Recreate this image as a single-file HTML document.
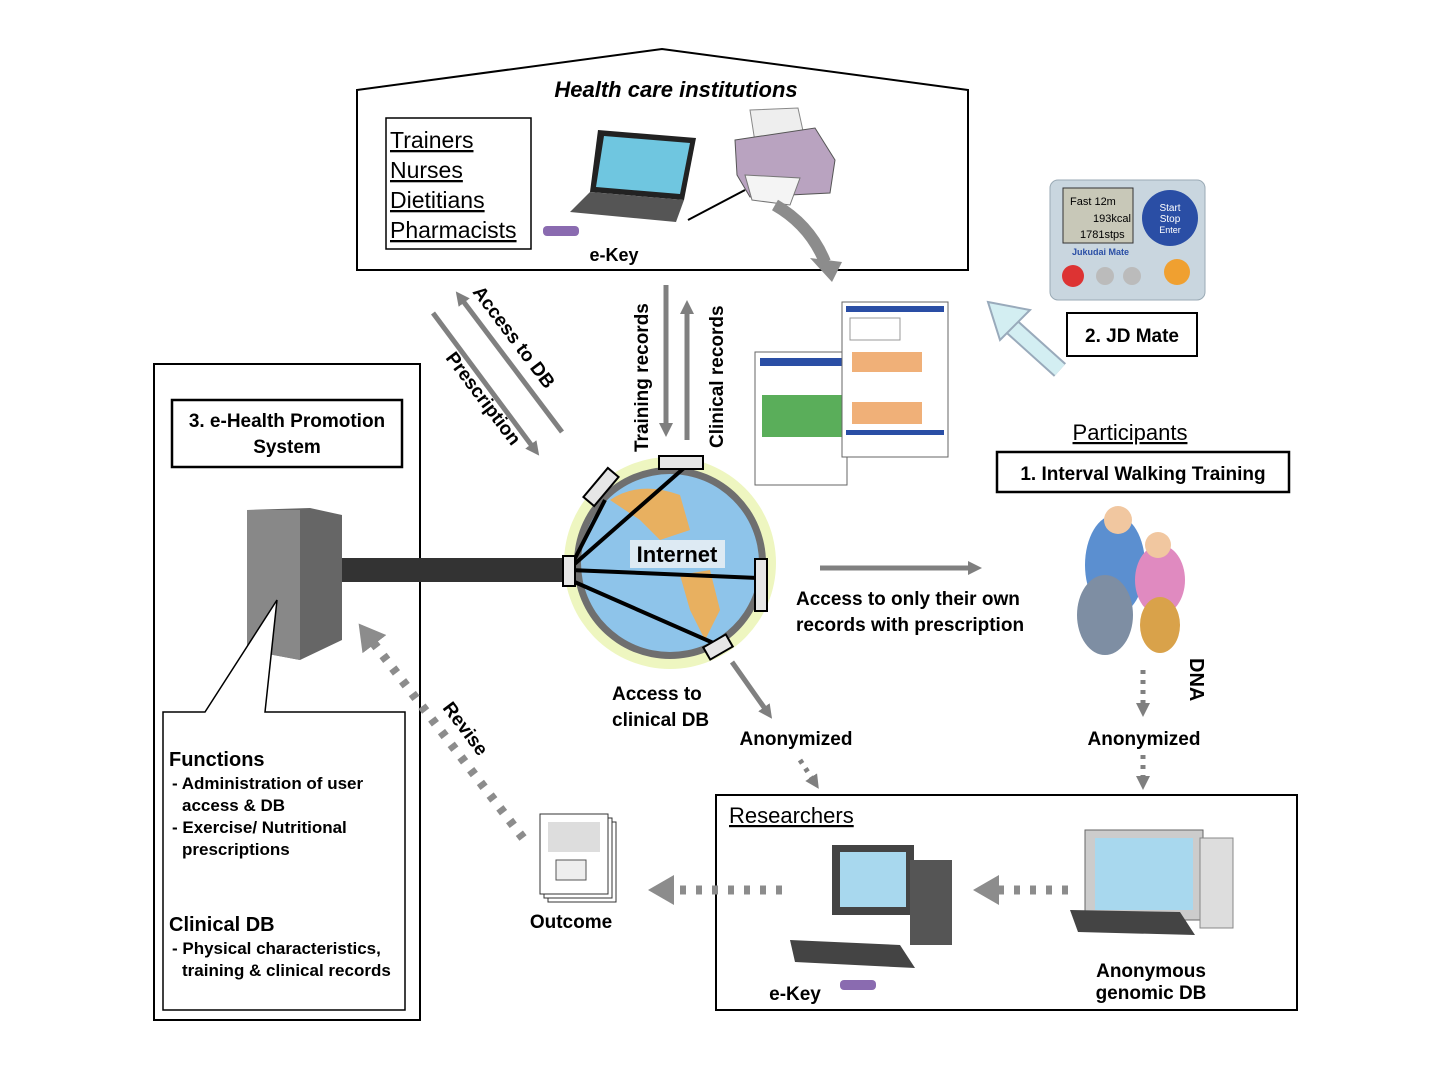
<!DOCTYPE html>
<html><head><meta charset="utf-8"><style>
body{margin:0;background:#fff}
svg{display:block}
text{font-family:"Liberation Sans",Arial,sans-serif}
.b{font-weight:bold}
</style></head><body>
<svg width="1440" height="1077" viewBox="0 0 1440 1077">
<defs>
<marker id="ga" markerWidth="14" markerHeight="14" refX="7" refY="7" orient="auto" markerUnits="userSpaceOnUse" viewBox="0 0 14 14"><path d="M0,0 L14,7 L0,14 z" fill="#7f7f7f"/></marker>
<marker id="gc" markerWidth="26" markerHeight="30" refX="4" refY="15" orient="auto" markerUnits="userSpaceOnUse" viewBox="0 0 26 30"><path d="M0,0 L26,15 L0,30 z" fill="#8c8c8c"/></marker>
</defs>
<polygon points="357,90 662,49 968,90 968,270 357,270" fill="#fff" stroke="#000" stroke-width="2"/>
<text x="676" y="97" font-size="22" font-style="italic" class="b" text-anchor="middle">Health care institutions</text>
<rect x="386" y="118" width="145" height="131" fill="#fff" stroke="#000" stroke-width="1.5"/>
<g font-size="23" text-decoration="underline">
<text x="390" y="148">Trainers</text><text x="390" y="178">Nurses</text><text x="390" y="208">Dietitians</text><text x="390" y="238">Pharmacists</text></g>
<polygon points="598,130 696,138 684,200 590,192" fill="#222"/>
<polygon points="604,136 690,143 680,194 596,187" fill="#6fc6e0"/>
<polygon points="590,192 684,200 676,222 570,212" fill="#555"/>
<line x1="688" y1="220" x2="745" y2="190" stroke="#000" stroke-width="2"/>
<rect x="543" y="226" width="36" height="10" rx="4" fill="#8a6bb0"/>
<text x="614" y="261" font-size="18" class="b" text-anchor="middle">e-Key</text>
<polygon points="750,110 798,108 805,140 755,142" fill="#eee" stroke="#888"/>
<polygon points="735,140 815,128 835,160 830,193 750,197 737,175" fill="#b9a3c0" stroke="#555"/>
<polygon points="745,175 800,178 790,205 752,200" fill="#f4f4f4" stroke="#777"/>
<path d="M775,205 Q810,225 825,262" stroke="#8c8c8c" stroke-width="12" fill="none"/>
<polygon points="810,258 842,262 832,282" fill="#8c8c8c"/>
<rect x="1050" y="180" width="155" height="120" rx="8" fill="#c9d6df" stroke="#9aaab5"/>
<rect x="1063" y="188" width="70" height="55" fill="#c8c8b8" stroke="#333"/>
<text x="1070" y="205" font-size="11">Fast 12m</text><text x="1093" y="222" font-size="11">193kcal</text><text x="1080" y="238" font-size="11">1781stps</text>
<circle cx="1170" cy="218" r="28" fill="#2a4ea5"/>
<text x="1170" y="211" font-size="10" fill="#fff" text-anchor="middle">Start</text><text x="1170" y="222" font-size="10" fill="#fff" text-anchor="middle">Stop</text><text x="1170" y="233" font-size="9" fill="#fff" text-anchor="middle">Enter</text>
<text x="1072" y="255" font-size="9" class="b" fill="#2a4ea5">Jukudai Mate</text>
<circle cx="1073" cy="276" r="11" fill="#d33"/><circle cx="1105" cy="276" r="9" fill="#bbb"/><circle cx="1132" cy="276" r="9" fill="#bbb"/><circle cx="1177" cy="272" r="13" fill="#f0a030"/>
<rect x="1067" y="313" width="130" height="43" fill="#fff" stroke="#000" stroke-width="2"/>
<text x="1132" y="342" font-size="19" class="b" text-anchor="middle">2. JD Mate</text>
<line x1="1060" y1="370" x2="1010" y2="325" stroke="#9ab" stroke-width="18"/>
<line x1="1060" y1="370" x2="1010" y2="325" stroke="#d3eef2" stroke-width="14"/>
<polygon points="988,302 1030,310 1000,340" fill="#d3eef2" stroke="#9ab" stroke-width="2"/>
<!-- reports -->
<rect x="755" y="352" width="92" height="133" fill="#fff" stroke="#666"/>
<rect x="760" y="358" width="82" height="8" fill="#2a4ea5"/>
<rect x="762" y="395" width="80" height="42" fill="#5aae5a"/>
<rect x="842" y="302" width="106" height="155" fill="#fff" stroke="#666"/>
<rect x="846" y="306" width="98" height="6" fill="#2a4ea5"/>
<rect x="850" y="318" width="50" height="22" fill="#fff" stroke="#999"/>
<rect x="852" y="352" width="70" height="20" fill="#f0b078"/>
<rect x="852" y="402" width="70" height="22" fill="#f0b078"/>
<rect x="846" y="430" width="98" height="5" fill="#2a4ea5"/>
<line x1="433" y1="313" x2="535" y2="450" stroke="#808080" stroke-width="5" marker-end="url(#ga)"/>
<line x1="562" y1="432" x2="460" y2="297" stroke="#808080" stroke-width="5" marker-end="url(#ga)"/>
<text transform="translate(472,292) rotate(53)" font-size="19" class="b">Access to DB</text>
<text transform="translate(445,358) rotate(53)" font-size="19" class="b">Prescription</text>
<line x1="666" y1="285" x2="666" y2="430" stroke="#808080" stroke-width="5" marker-end="url(#ga)"/>
<line x1="687" y1="440" x2="687" y2="307" stroke="#808080" stroke-width="5" marker-end="url(#ga)"/>
<text transform="translate(648,452) rotate(-90)" font-size="19" class="b">Training records</text>
<text transform="translate(723,448) rotate(-90)" font-size="19" class="b">Clinical records</text>
<rect x="154" y="364" width="266" height="656" fill="#fff" stroke="#000" stroke-width="2"/>
<rect x="172" y="400" width="230" height="67" fill="#fff" stroke="#000" stroke-width="2.5"/>
<text x="287" y="427" font-size="19" class="b" text-anchor="middle">3. e-Health Promotion</text>
<text x="287" y="453" font-size="19" class="b" text-anchor="middle">System</text>
<polygon points="247,510 310,508 342,515 342,640 300,660 247,650" fill="#666"/>
<polygon points="247,510 300,510 300,660 247,650" fill="#888"/>
<rect x="342" y="558" width="224" height="24" fill="#333"/>
<polygon points="163,712 205,712 277,600 265,712 405,712 405,1010 163,1010" fill="#fff" stroke="#000" stroke-width="1.5"/>
<g font-size="17" class="b">
<text x="169" y="766" font-size="20">Functions</text>
<text x="172" y="789">- Administration of user</text><text x="182" y="811">access &amp; DB</text>
<text x="172" y="833">- Exercise/ Nutritional</text><text x="182" y="855">prescriptions</text>
<text x="169" y="931" font-size="20">Clinical DB</text>
<text x="172" y="954">- Physical characteristics,</text><text x="182" y="976">training &amp; clinical records</text></g>
<circle cx="670" cy="563" r="106" fill="#eef6c0"/>
<circle cx="670" cy="563" r="96" fill="#6f6f6f"/>
<circle cx="670" cy="563" r="89" fill="#8ec4ea"/>
<path d="M610,500 Q640,480 680,495 L690,530 L660,540 L640,520 Z" fill="#e8b060"/>
<path d="M680,575 L710,570 L720,610 L705,640 L690,610 Z" fill="#e8b060"/>
<g stroke="#000" stroke-width="4"><line x1="570" y1="568" x2="605" y2="500"/><line x1="570" y1="568" x2="684" y2="468"/><line x1="570" y1="570" x2="758" y2="578"/><line x1="570" y1="580" x2="718" y2="645"/></g>
<g fill="#e6e6e6" stroke="#000" stroke-width="2">
<rect x="563" y="556" width="12" height="30"/><rect x="659" y="456" width="44" height="13"/><rect x="755" y="559" width="12" height="52"/>
<rect x="582" y="480" width="38" height="14" transform="rotate(-50 601 487)"/><rect x="705" y="640" width="26" height="14" transform="rotate(-30 718 647)"/></g>
<rect x="630" y="540" width="95" height="28" fill="#e6eef4" opacity="0.9"/>
<text x="677" y="562" font-size="22" class="b" text-anchor="middle">Internet</text>
<line x1="820" y1="568" x2="975" y2="568" stroke="#808080" stroke-width="5" marker-end="url(#ga)"/>
<text x="796" y="605" font-size="19" class="b">Access to only their own</text>
<text x="796" y="631" font-size="19" class="b">records with prescription</text>
<text x="1130" y="440" font-size="22" text-anchor="middle" text-decoration="underline">Participants</text>
<rect x="997" y="452" width="292" height="40" fill="#fff" stroke="#000" stroke-width="2.5"/>
<text x="1143" y="480" font-size="19" class="b" text-anchor="middle">1. Interval Walking Training</text>
<ellipse cx="1115" cy="565" rx="30" ry="50" fill="#5b8fd0"/><circle cx="1118" cy="520" r="14" fill="#f1c7a0"/>
<ellipse cx="1105" cy="615" rx="28" ry="40" fill="#7e8ea3"/>
<ellipse cx="1160" cy="580" rx="25" ry="35" fill="#e08ac0"/><circle cx="1158" cy="545" r="13" fill="#f1c7a0"/>
<ellipse cx="1160" cy="625" rx="20" ry="28" fill="#d9a24a"/>
<text transform="translate(1190,658) rotate(90)" font-size="20" class="b">DNA</text>
<line x1="1143" y1="670" x2="1143" y2="710" stroke="#808080" stroke-width="5" stroke-dasharray="4,6" marker-end="url(#ga)"/>
<text x="1144" y="745" font-size="19" class="b" text-anchor="middle">Anonymized</text>
<line x1="1143" y1="755" x2="1143" y2="783" stroke="#808080" stroke-width="5" stroke-dasharray="4,6" marker-end="url(#ga)"/>
<line x1="732" y1="662" x2="768" y2="713" stroke="#808080" stroke-width="5" marker-end="url(#ga)"/>
<text x="612" y="700" font-size="19" class="b">Access to</text><text x="612" y="726" font-size="19" class="b">clinical DB</text>
<text x="796" y="745" font-size="19" class="b" text-anchor="middle">Anonymized</text>
<line x1="800" y1="760" x2="815" y2="783" stroke="#808080" stroke-width="5" stroke-dasharray="4,6" marker-end="url(#ga)"/>
<rect x="716" y="795" width="581" height="215" fill="#fff" stroke="#000" stroke-width="2"/>
<text x="729" y="823" font-size="22" text-decoration="underline">Researchers</text>
<rect x="832" y="845" width="82" height="70" fill="#444"/><rect x="840" y="852" width="66" height="55" fill="#a8d8ee"/>
<rect x="910" y="860" width="42" height="85" fill="#555"/>
<polygon points="790,940 900,945 915,968 795,962" fill="#444"/>
<rect x="840" y="980" width="36" height="10" rx="4" fill="#8a6bb0"/>
<text x="795" y="1000" font-size="19" class="b" text-anchor="middle">e-Key</text>
<rect x="1085" y="830" width="118" height="90" fill="#ccc" stroke="#666"/><rect x="1095" y="838" width="98" height="72" fill="#a8d8ee"/>
<rect x="1200" y="838" width="33" height="90" fill="#ddd" stroke="#888"/>
<polygon points="1070,910 1180,912 1195,935 1078,932" fill="#444"/>
<text x="1151" y="977" font-size="19" class="b" text-anchor="middle">Anonymous</text>
<text x="1151" y="999" font-size="19" class="b" text-anchor="middle">genomic DB</text>
<line x1="1068" y1="890" x2="995" y2="890" stroke="#8c8c8c" stroke-width="9" stroke-dasharray="6,10" marker-end="url(#gc)"/>
<line x1="782" y1="890" x2="670" y2="890" stroke="#8c8c8c" stroke-width="9" stroke-dasharray="6,10" marker-end="url(#gc)"/>
<rect x="548" y="822" width="68" height="80" fill="#fff" stroke="#333"/>
<rect x="544" y="818" width="68" height="80" fill="#fff" stroke="#333"/>
<rect x="540" y="814" width="68" height="80" fill="#fff" stroke="#333"/>
<rect x="548" y="822" width="52" height="30" fill="#ddd"/><rect x="556" y="860" width="30" height="20" fill="#eee" stroke="#555"/>
<text x="571" y="928" font-size="19" class="b" text-anchor="middle">Outcome</text>
<line x1="523" y1="838" x2="372" y2="641" stroke="#8c8c8c" stroke-width="9" stroke-dasharray="6,10" marker-end="url(#gc)"/>
<text transform="translate(442,708) rotate(53)" font-size="19" class="b">Revise</text>
</svg>
</body></html>
